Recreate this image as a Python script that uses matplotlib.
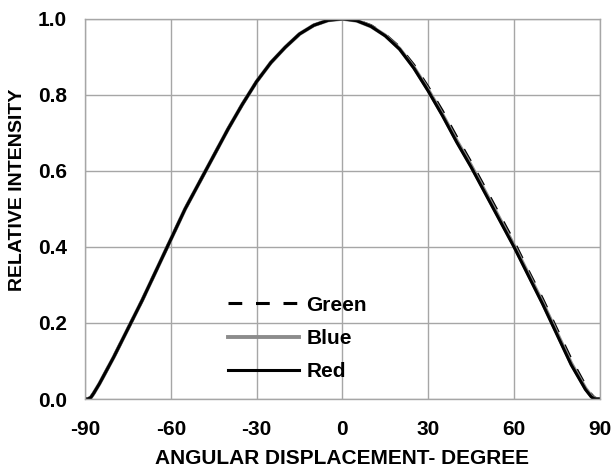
import matplotlib.pyplot as plt

# angle (deg) and relative intensity
angle = [-90, -89, -88, -87, -85, -80, -75, -70, -65, -60, -55, -50, -45, -40,
         -35, -30, -25, -20, -15, -10, -5, 0, 5, 10, 15, 20, 25, 30, 35, 40,
         45, 50, 55, 60, 65, 70, 75, 80, 85, 87, 88, 89, 90]
red = [0.0, 0.0, 0.004, 0.015, 0.04, 0.11, 0.185, 0.26, 0.34, 0.42, 0.50, 0.57,
       0.64, 0.71, 0.775, 0.835, 0.885, 0.925, 0.96, 0.983, 0.996, 1.0, 0.995,
       0.98, 0.955, 0.92, 0.87, 0.81, 0.745, 0.675, 0.61, 0.54, 0.47, 0.40,
       0.325, 0.25, 0.17, 0.09, 0.025, 0.006, 0.001, 0.0, 0.0]
blue = [0.0, 0.0, 0.004, 0.015, 0.04, 0.11, 0.185, 0.26, 0.34, 0.42, 0.50, 0.57,
        0.64, 0.71, 0.775, 0.835, 0.885, 0.925, 0.96, 0.983, 0.996, 1.0, 0.995,
        0.98, 0.956, 0.921, 0.872, 0.813, 0.748, 0.679, 0.614, 0.544, 0.474,
        0.404, 0.329, 0.254, 0.174, 0.094, 0.028, 0.008, 0.002, 0.0, 0.0]
green = [0.0, 0.0, 0.004, 0.015, 0.04, 0.11, 0.185, 0.26, 0.34, 0.42, 0.50, 0.57,
         0.64, 0.71, 0.775, 0.835, 0.885, 0.925, 0.96, 0.983, 0.996, 1.0, 0.996,
         0.982, 0.958, 0.925, 0.878, 0.82, 0.757, 0.688, 0.622, 0.553, 0.483,
         0.413, 0.337, 0.263, 0.183, 0.104, 0.035, 0.012, 0.004, 0.0, 0.0]

xticks = [-90, -60, -30, 0, 30, 60, 90]
yticks = [0.0, 0.2, 0.4, 0.6, 0.8, 1.0]

plt.rcParams['font.family'] = ['Liberation Sans', 'DejaVu Sans']
plt.rcParams['font.weight'] = 'bold'

fig = plt.figure(figsize=(6.12, 4.70), dpi=100)
ax = fig.add_axes([0.139, 0.151, 0.841, 0.809])

ax.plot(angle, green, color='black', lw=2.2, dashes=(4.5, 4.5), label='Green')
ax.plot(angle, blue, color='#8c8c8c', lw=2.8, label='Blue')
ax.plot(angle, red, color='black', lw=2.2, label='Red')

ax.set_xlim(-90, 90)
ax.set_ylim(0, 1.0)
ax.set_xticks(xticks)
ax.set_xticklabels([str(v) for v in xticks])
ax.set_yticks(yticks)
ax.set_yticklabels([f'{v:.1f}' for v in yticks])
ax.tick_params(length=0, labelsize=15)
ax.tick_params(axis='x', pad=15)
ax.tick_params(axis='y', pad=13)
ax.grid(True, color='#a6a6a6', lw=1.0)
ax.set_axisbelow(True)
for s in ax.spines.values():
    s.set_color('#a6a6a6')
    s.set_linewidth(1.0)

ax.set_xlabel('ANGULAR DISPLACEMENT- DEGREE', fontsize=15, fontweight='bold', labelpad=7)
ax.set_ylabel('RELATIVE INTENSITY', fontsize=14, fontweight='bold')
ax.yaxis.set_label_coords(-0.115, 0.55)

ax.legend(loc='center left', bbox_to_anchor=(0.278, 0.159), frameon=False,
          fontsize=15, handlelength=3.4, handletextpad=0.35, labelspacing=0.69,
          borderpad=0, borderaxespad=0)

fig.savefig('out.png', dpi=100)
